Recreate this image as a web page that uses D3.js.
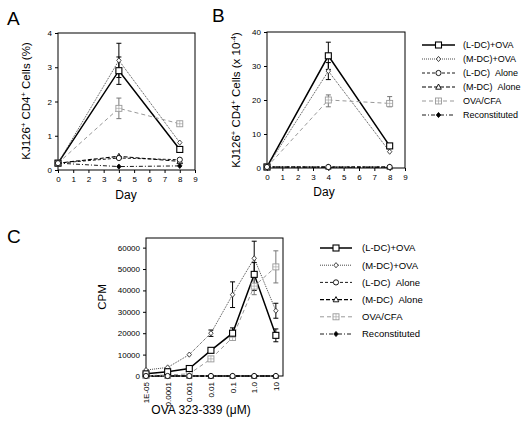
<!DOCTYPE html>
<html><head><meta charset="utf-8">
<script src="https://cdn.jsdelivr.net/npm/d3@7"></script>
<style>
body{margin:0;background:#fff;}
text{font-family:"Liberation Sans",Arial,sans-serif;fill:#000;}
</style></head><body>
<svg id="c" width="529" height="430"></svg>
<script>
// ---- data ----
const seriesNames = ["(L-DC)+OVA","(M-DC)+OVA","(L-DC)  Alone","(M-DC)  Alone","OVA/CFA","Reconstituted"];
const days = [0,4,8];
const dayTicks = [0,1,2,3,4,5,6,7,8,9];
const aTicks = [0,1,2,3,4];
const aValues = [
  [0.2,2.9,0.6],
  [0.2,3.2,0.8],
  [0.2,0.35,0.3],
  [0.2,0.4,0.25],
  [0.2,1.8,1.35],
  [0.2,0.1,0.12]
];
const aErrors = [
  [null,[2.5,3.3],null],
  [null,[2.7,3.7],null],
  [null,null,null],
  [null,null,null],
  [null,[1.5,2.1],null],
  [null,null,null]
];
const bTicks = [0,10,20,30,40];
const bValues = [
  [0.3,33,6.5],
  [0.3,28.5,4.8],
  [0.3,0.3,0.3],
  [0.3,0.3,0.3],
  [0.3,20,19],
  [0.3,0.2,0.2]
];
const bErrors = [
  [null,[29,37],null],
  [null,[26,31],null],
  [null,null,null],
  [null,null,null],
  [null,[18,21.5],[18,21]],
  [null,null,null]
];
const concs = [1e-5,1e-4,1e-3,0.01,0.1,1,10];
const concLabels = ["1E-05","0.0001","0.001","0.01","0.1","1.0","10"];
const cTicks = [0,10000,20000,30000,40000,50000,60000];
const cValues = [
  [1000,2000,3500,12000,20000,47500,19000],
  [2800,4000,10000,20000,38000,55000,30500],
  [0,0,0,0,0,0,0],
  [0,0,0,0,0,0,0],
  [200,500,1000,8000,18000,42000,51000],
  [0,0,0,0,0,0,0]
];
const cErrors = [
  [null,null,null,null,[18000,22500],[40000,53000],[16000,22000]],
  [null,null,null,[18500,21500],[32000,44000],[47000,63000],[27000,34000]],
  [null,null,null,null,null,null,null],
  [null,null,null,null,null,null,null],
  [null,null,null,null,null,[38000,46000],[43500,58500]],
  [null,null,null,null,null,null,null]
];

// ---- styles ----
const styles = [
  {color:"#000",width:1.5,dash:null,marker:"square"},
  {color:"#333",width:0.9,dash:"1,1",marker:"diamond"},
  {color:"#000",width:0.9,dash:"3,2",marker:"circle"},
  {color:"#000",width:1.1,dash:"4,2",marker:"triangle"},
  {color:"#999",width:1,dash:"4,3",marker:"boxcross"},
  {color:"#000",width:0.9,dash:"4,2,1,2",marker:"fdiamond"}
];
const markerOrder = [5,3,4,1,0,2];

const svg = d3.select("#c");

function marker(g,type,x,y,color){
  const s = g.append("g").attr("transform",`translate(${x},${y})`);
  if(type==="square"){
    s.append("rect").attr("x",-3).attr("y",-3).attr("width",6).attr("height",6).attr("fill","#fff").attr("stroke",color).attr("stroke-width",1.1);
  } else if(type==="diamond"){
    s.append("path").attr("d","M0,-2.6L2.2,0L0,2.6L-2.2,0Z").attr("fill","#fff").attr("stroke",color).attr("stroke-width",0.9);
  } else if(type==="circle"){
    s.append("circle").attr("r",2.6).attr("fill","#fff").attr("stroke",color).attr("stroke-width",0.9);
  } else if(type==="triangle"){
    s.append("path").attr("d","M0,-3L2.8,2.2L-2.8,2.2Z").attr("fill","#fff").attr("stroke",color).attr("stroke-width",0.9);
  } else if(type==="boxcross"){
    s.append("rect").attr("x",-3).attr("y",-3).attr("width",6).attr("height",6).attr("fill","#fff").attr("stroke",color).attr("stroke-width",0.9);
    s.append("path").attr("d","M-3,0H3M0,-3V3").attr("stroke",color).attr("stroke-width",0.6);
  } else if(type==="fdiamond"){
    s.append("path").attr("d","M0,-2.6L2.2,0L0,2.6L-2.2,0Z").attr("fill",color).attr("stroke",color).attr("stroke-width",0.8);
  }
}

function drawSeries(g,xs,ys,xVals,values,errors){
  values.forEach((vals,i)=>{
    const st = styles[i];
    const line = d3.line().x((d,j)=>xs(xVals[j])).y(d=>ys(d));
    g.append("path").datum(vals).attr("d",line).attr("fill","none")
      .attr("stroke",st.color).attr("stroke-width",st.width)
      .attr("stroke-dasharray",st.dash);
    errors[i].forEach((e,j)=>{
      if(!e) return;
      const x = xs(xVals[j]);
      const eg = g.append("g").attr("stroke",st.color==="#999"?"#777":"#000").attr("stroke-width",1);
      eg.append("line").attr("x1",x).attr("x2",x).attr("y1",ys(e[0])).attr("y2",ys(e[1]));
      eg.append("line").attr("x1",x-2.5).attr("x2",x+2.5).attr("y1",ys(e[0])).attr("y2",ys(e[0]));
      eg.append("line").attr("x1",x-2.5).attr("x2",x+2.5).attr("y1",ys(e[1])).attr("y2",ys(e[1]));
    });
  });
  markerOrder.forEach(i=>{
    values[i].forEach((v,j)=>marker(g,styles[i].marker,xs(xVals[j]),ys(v),styles[i].color));
  });
}

function frame(g,x0,x1,y0,y1){
  g.append("rect").attr("x",x0).attr("y",y0).attr("width",x1-x0).attr("height",y1-y0)
    .attr("fill","none").attr("stroke","#000").attr("stroke-width",1);
}

function styleAxis(ax){
  ax.select(".domain").remove();
  ax.selectAll("line").attr("stroke","#000");
  ax.selectAll("text").style("font-size","8px").style("font-family","'Liberation Sans',Arial,sans-serif");
}

function yTitle(x,y,parts){
  const t = svg.append("text").attr("transform",`translate(${x},${y}) rotate(-90)`)
    .attr("text-anchor","middle").style("font-size","11.5px");
  parts.forEach(p=>{
    const ts = t.append("tspan").text(p[0]);
    if(p[1]) ts.attr("baseline-shift","super").style("font-size","7.5px");
  });
}

const intFmt = d3.format("d");

// ---- Panel A ----
{
  const L=58,R=195,T=33,B=170;
  const x = d3.scaleLinear().domain([0,9]).range([L,R]);
  const y = d3.scaleLinear().domain([0,4]).range([B,T]);
  const g = svg.append("g");
  frame(g,L,R,T,B);
  styleAxis(g.append("g").attr("transform",`translate(0,${B})`).call(d3.axisBottom(x).tickValues(dayTicks).tickFormat(intFmt).tickSize(3).tickPadding(3)));
  styleAxis(g.append("g").attr("transform",`translate(${L},0)`).call(d3.axisLeft(y).tickValues(aTicks).tickFormat(intFmt).tickSize(3).tickPadding(3)));
  drawSeries(g,x,y,days,aValues,aErrors);
  svg.append("text").attr("x",126).attr("y",199).attr("text-anchor","middle").style("font-size","12px").text("Day");
  yTitle(30,101,[["KJ126"],["+",1],[" CD4"],["+",1],[" Cells (%)"]]);
  svg.append("text").attr("x",7).attr("y",25).style("font-size","19px").text("A");
}

// ---- Panel B ----
{
  const L=267,R=405,T=32,B=168;
  const x = d3.scaleLinear().domain([0,9]).range([L,R]);
  const y = d3.scaleLinear().domain([0,40]).range([B,T]);
  const g = svg.append("g");
  frame(g,L,R,T,B);
  styleAxis(g.append("g").attr("transform",`translate(0,${B})`).call(d3.axisBottom(x).tickValues(dayTicks).tickFormat(intFmt).tickSize(3).tickPadding(3)));
  styleAxis(g.append("g").attr("transform",`translate(${L},0)`).call(d3.axisLeft(y).tickValues(bTicks).tickFormat(intFmt).tickSize(3).tickPadding(3)));
  drawSeries(g,x,y,days,bValues,bErrors);
  svg.append("text").attr("x",324).attr("y",196).attr("text-anchor","middle").style("font-size","12px").text("Day");
  yTitle(240,100,[["KJ126"],["+",1],[" CD4"],["+",1],[" Cells (x 10"],["-4",1],[")"]]);
  svg.append("text").attr("x",212).attr("y",22).style("font-size","19px").text("B");
}

// ---- Panel C ----
{
  const L=146,R=283,T=238,B=376;
  const x = d3.scaleLog().domain([1e-5,Math.pow(10,1.33)]).range([L,R]);
  const y = d3.scaleLinear().domain([0,64500]).range([B,T]);
  const g = svg.append("g");
  frame(g,L,R,T,B);
  const xa = g.append("g").attr("transform",`translate(0,${B})`)
    .call(d3.axisBottom(x).tickValues(concs).tickFormat((d,i)=>concLabels[i]).tickSize(3));
  styleAxis(xa);
  xa.selectAll("text").attr("transform","rotate(-90)").attr("text-anchor","end")
    .attr("x",-6).attr("y",0).attr("dy","0.32em");
  styleAxis(g.append("g").attr("transform",`translate(${L},0)`).call(d3.axisLeft(y).tickValues(cTicks).tickFormat(intFmt).tickSize(3).tickPadding(3)));
  drawSeries(g,x,y,concs,cValues,cErrors);
  svg.append("text").attr("x",201).attr("y",414).attr("text-anchor","middle").style("font-size","12px").text("OVA 323-339 (μM)");
  svg.append("text").attr("transform","translate(106,297) rotate(-90)").attr("text-anchor","middle").style("font-size","11.5px").text("CPM");
  svg.append("text").attr("x",7).attr("y",243).style("font-size","19px").text("C");
}

// ---- legends ----
function legend(x0,x1,tx,y0,dy,fs){
  seriesNames.forEach((n,i)=>{
    const st = styles[i];
    const y = y0+i*dy;
    svg.append("line").attr("x1",x0).attr("x2",x1).attr("y1",y).attr("y2",y)
      .attr("stroke",st.color).attr("stroke-width",st.width).attr("stroke-dasharray",st.dash);
    marker(svg,st.marker,(x0+x1)/2,y,st.color);
    svg.append("text").attr("x",tx).attr("y",y).attr("dy","0.35em").style("font-size",fs+"px").text(n.replace(/  /g,"\u00a0\u00a0"));
  });
}
legend(422,455,463,45,14,9);
legend(320,352,362,248,17.2,9.5);
</script>
</body></html>
